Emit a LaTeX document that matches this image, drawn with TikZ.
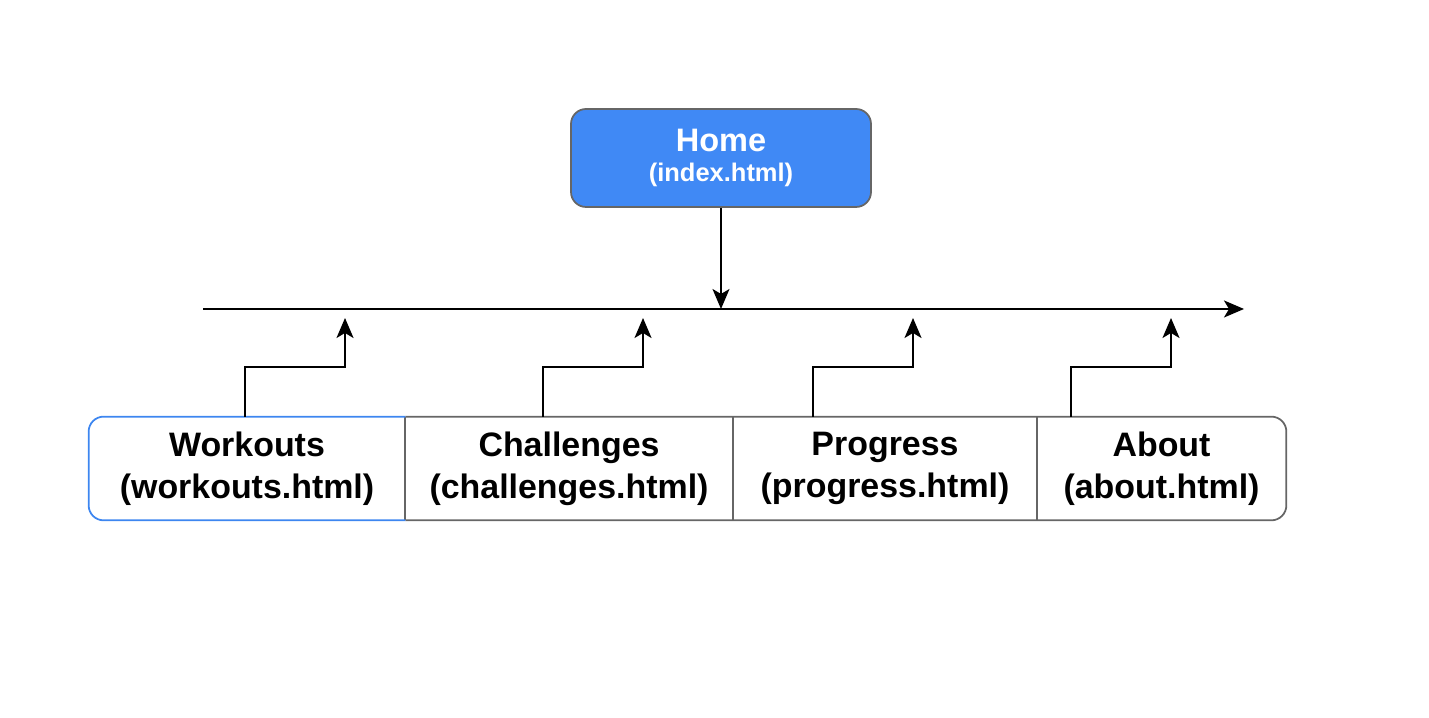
\documentclass[tikz,border=0pt]{standalone}
\usepackage{fontspec}
\setmainfont{Liberation Sans}
\usetikzlibrary{arrows.meta}
\definecolor{homeblue}{HTML}{4089F5}
\definecolor{edgeblue}{HTML}{3D86F0}
\definecolor{boxgray}{HTML}{666666}
\tikzset{
  homebox/.style={fill=homeblue, draw=boxgray, line width=1pt, rounded corners=0.3cm,
    minimum width=6cm, minimum height=1.96cm, text=white, align=center,
    font=\fontsize{18.5}{20}\selectfont\bfseries},
  pagecell/.style={minimum height=2.06cm, inner sep=0pt, align=center,
    font=\fontsize{19.3}{24}\selectfont\bfseries},
  cellline/.style={draw=boxgray, line width=1pt},
  flow/.style={line width=1.1pt, -{Stealth[length=0.4cm, width=0.34cm, inset=0.1cm]}},
}

\begin{document}
\begin{tikzpicture}
\useasboundingbox (0,0) rectangle (28.58,14.36);
% top page
\node[homebox] (home) at (14.42,11.2)
  {\raisebox{-0.2cm}{Home}\\[-3pt]\raisebox{-0.2cm}{\fontsize{14.5}{20}\selectfont (index.html)}};
% navigation bar
\coordinate (busL) at (4.06,8.18);
\coordinate (busR) at (24.88,8.18);
\draw[flow] (busL) -- (busR);
\draw[flow] (home.south) -- (home.south |- busL);
% sub pages
\node[pagecell, minimum width=6.32cm] (workouts) at (4.94,4.99) {Workouts\\(workouts.html)};
\node[pagecell, minimum width=6.56cm] (challenges) at (11.38,4.99) {Challenges\\(challenges.html)};
\node[pagecell, minimum width=6.08cm] (progress) at (17.70,4.99) {Progress\\(progress.html)};
\node[pagecell, minimum width=4.98cm] (about) at (23.23,4.99) {About\\(about.html)};
\draw[cellline, rounded corners=0.3cm] (workouts.north east) -- (about.north east)
  -- (about.south east) -- (workouts.south east);
\draw[cellline] (challenges.north west) -- (challenges.south west);
\draw[cellline] (progress.north west) -- (progress.south west);
\draw[cellline] (about.north west) -- (about.south west);
\draw[draw=edgeblue, line width=1pt, rounded corners=0.3cm] (workouts.north east)
  -- (workouts.north west) -- (workouts.south west) -- (workouts.south east);
% links up to the bar
\coordinate (tipW) at (6.90,8.0);
\coordinate (tipC) at (12.86,8.0);
\coordinate (tipP) at (18.26,8.0);
\coordinate (tipA) at (23.42,8.0);
\draw[flow] ([xshift=-0.04cm]workouts.north) |- ([yshift=-0.98cm]tipW) -- (tipW);
\draw[flow] ([xshift=-0.52cm]challenges.north) |- ([yshift=-0.98cm]tipC) -- (tipC);
\draw[flow] ([xshift=-1.44cm]progress.north) |- ([yshift=-0.98cm]tipP) -- (tipP);
\draw[flow] ([xshift=-1.81cm]about.north) |- ([yshift=-0.98cm]tipA) -- (tipA);
\end{tikzpicture}
\end{document}
